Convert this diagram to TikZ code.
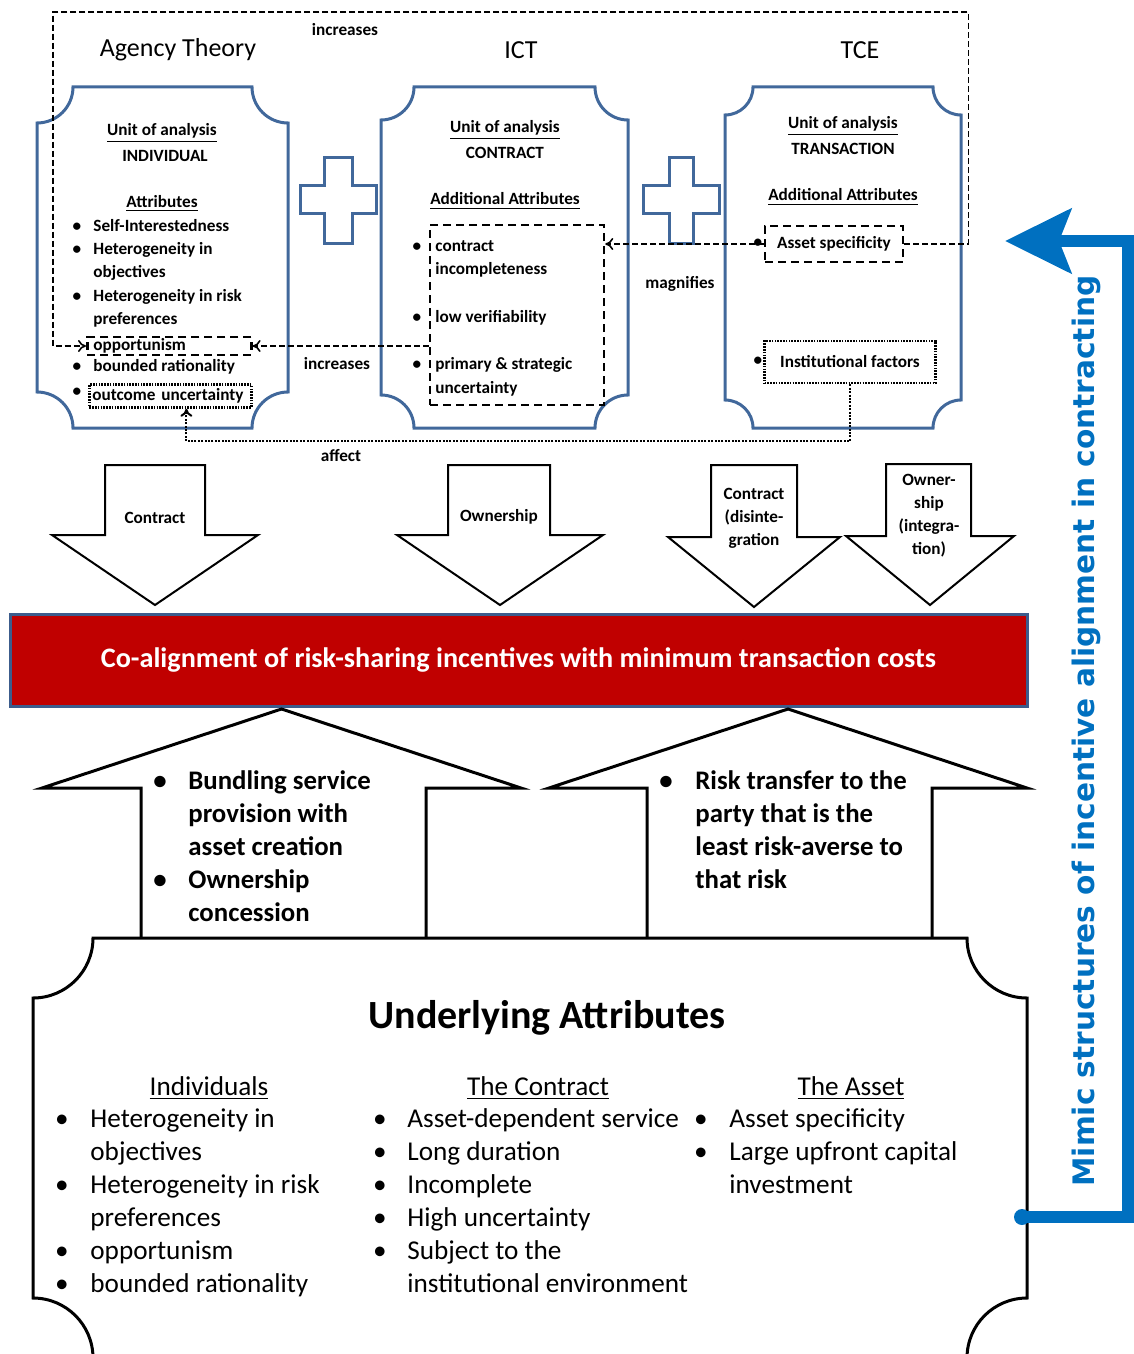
\documentclass[tikz,border=0pt]{standalone}
\usepackage{fontspec}
\setmainfont{Carlito}
\newfontfamily\mimicfont{DejaVu Sans}
\usetikzlibrary{arrows.meta}
\definecolor{panelblue}{RGB}{65,104,155}
\definecolor{barred}{RGB}{192,0,0}
\definecolor{barframe}{RGB}{60,92,140}
\definecolor{mimicblue}{RGB}{0,112,192}
\newcommand\plaque[6]{%
  \draw[#1] ({#2+#6},#3) -- ({#4-#6},#3) arc[start angle=180,end angle=270,radius={0.5pt*#6}]
    -- (#4,{#5-#6}) arc[start angle=90,end angle=180,radius={0.5pt*#6}]
    -- ({#2+#6},#5) arc[start angle=0,end angle=90,radius={0.5pt*#6}]
    -- (#2,{#3+#6}) arc[start angle=270,end angle=360,radius={0.5pt*#6}] -- cycle;}
\begin{document}
\begin{tikzpicture}[x=0.5pt, y=-0.5pt,
    paneltext/.style={font=\bfseries\fontsize{8.6}{11.5}\selectfont, inner sep=0pt},
    theory/.style={font=\fontsize{13}{15}\selectfont},
    listtext/.style={font=\fontsize{13.6}{16.5}\selectfont, inner sep=0pt, anchor=mid west},
    uptext/.style={font=\bfseries\fontsize{13.4}{16.5}\selectfont, inner sep=0pt, anchor=mid west},
    panel/.style={draw=panelblue, line width=1.5pt},
    block/.style={draw, line width=1pt, fill=white},
    uparrow/.style={draw, line width=1.5pt},
    dashbox/.style={draw, line width=1.3pt, dash pattern=on 4pt off 2.5pt},
    dotbox/.style={draw, line width=1.4pt, dash pattern=on 0.8pt off 0.6pt},
    link/.style={line width=0.8pt, dash pattern=on 3pt off 1.5pt, -{To[length=4pt,width=6pt]}},
    dotlink/.style={line width=1pt, dash pattern=on 1pt off 0.7pt, -{To[length=4pt,width=6pt]}}]
  \useasboundingbox (0,0) rectangle (1134,1354);

  \node[theory] (agency) at (178,50) {Agency Theory};
  \node[theory] (ict) at (521,50) {ICT};
  \node[theory] (tce) at (860,50) {TCE};

  \plaque{panel}{37}{87}{288}{428}{36}
  \plaque{panel}{381}{87}{628}{428}{33}
  \plaque{panel}{725}{87}{961}{428}{28}

  \foreach \cx/\w in {338/14, 681/12}
    \draw[panel] ({\cx-\w},157) -- ({\cx+\w},157) -- ({\cx+\w},185) -- ({\cx+38},185) -- ({\cx+38},213)
      -- ({\cx+\w},213) -- ({\cx+\w},243) -- ({\cx-\w},243) -- ({\cx-\w},213) -- ({\cx-38},213)
      -- ({\cx-38},185) -- ({\cx-\w},185) -- cycle;

  \node[paneltext] (unitA) at (162,133) {\underline{Unit of analysis}};
  \node[paneltext] (individual) at (165,156) {INDIVIDUAL};
  \node[paneltext] (attrA) at (162,204) {\underline{Attributes}};
  \foreach \y/\t [count=\i] in {227/Self-Interestedness, 250/Heterogeneity in, 273/objectives,
      297/Heterogeneity in risk, 320/preferences, 367/bounded rationality}
    \node[paneltext, anchor=mid west] (ta\i) at (93,\y) {\t};
  \foreach \y [count=\i] in {227,250,297,367,392}
    \node[paneltext, anchor=mid] (ba\i) at (77,\y) {\textbullet};
  \node[dashbox, paneltext, anchor=west, text width=76pt, inner xsep=3pt, inner ysep=0.8pt] (opp) at (86,346) {opportunism};
  \node[dotbox, paneltext, anchor=west, text width=78pt, align=left, inner xsep=1.5pt, inner ysep=2pt] (unc) at (88,396) {outcome uncertainty};

  \node[paneltext] (unitB) at (505,130) {\underline{Unit of analysis}};
  \node[paneltext] (contract) at (505,153) {CONTRACT};
  \node[paneltext] (attrB) at (505,201) {\underline{Additional Attributes}};
  \node[dashbox, minimum width=87pt, minimum height=90pt] (ictbox) at (517,315) {};
  \foreach \y/\t [count=\i] in {247/contract, 270/incompleteness, 318/low verifiability,
      365/primary \& strategic, 389/uncertainty}
    \node[paneltext, anchor=mid west] (tb\i) at (435,\y) {\t};
  \foreach \y [count=\i] in {247,318,365}
    \node[paneltext, anchor=mid] (bb\i) at (417,\y) {\textbullet};

  \node[paneltext] (unitC) at (843,126) {\underline{Unit of analysis}};
  \node[paneltext] (transaction) at (843,149) {TRANSACTION};
  \node[paneltext] (attrC) at (843,197) {\underline{Additional Attributes}};
  \node[dashbox, paneltext, minimum width=69pt, minimum height=18pt] (asset) at (834,244) {Asset specificity};
  \node[dotbox, paneltext, minimum width=85.5pt, minimum height=21pt] (inst) at (850,362) {Institutional factors};
  \foreach \y [count=\i] in {243,361}
    \node[paneltext, anchor=mid] (bc\i) at (758,\y) {\textbullet};

  \draw[link] (asset.east) -- ++(64,0) |- (53,12) |- (opp.west);
  \draw[link] (opp.east -| ictbox.west) -- (opp.east);
  \draw[link] (asset.west) -- (asset.west -| ictbox.east);
  \draw[dotlink] (inst.south) -- ++(0,57) -| ([xshift=8pt]unc.south);
  \node[paneltext] (inc1) at (345,30) {increases};
  \node[paneltext] (inc2) at (337,364) {increases};
  \node[paneltext] (magn) at (680,284) {magnifies};
  \node[paneltext] (affect) at (341,456) {affect};

  \foreach \sa/\sb/\ha/\hb/\top/\base/\tip in {105/205/52/258/465/535/605, 448/550/397/603/465/535/605,
      711/797/668/840/465/537/607, 886/971/846/1014/464/536/605}
    \draw[block] (\sa,\top) -- (\sb,\top) -- (\sb,\base) -- (\hb,\base) -- ({(\ha+\hb)/2},\tip)
      -- (\ha,\base) -- (\sa,\base) -- cycle;
  \node[paneltext] (govA) at (155,518) {Contract};
  \node[paneltext] (govB) at (499,517) {Ownership};
  \node[paneltext, align=center] (govC) at (754,518) {Contract\\(disinte-\\gration};
  \node[paneltext, align=center] (govD) at (929,516) {Owner-\\ship\\(integra-\\tion)};

  \node[draw=barframe, line width=1.5pt, fill=barred, minimum width=508.5pt, minimum height=46pt,
    text=white, font=\bfseries\fontsize{14.1}{16}\selectfont] (coalign) at (518.5,660)
    {Co-alignment of risk-sharing incentives with minimum transaction costs};

  \foreach \sa/\sb/\ha/\hb in {141/426/42/521, 647/932/549/1027}
    \draw[uparrow] (\sa,938) -- (\sa,788) -- (\ha,788) -- ({(\ha+\hb)/2},709) -- (\hb,788) -- (\sb,788) -- (\sb,938);
  \foreach \t [count=\i] in {Bundling service, provision with, asset creation, Ownership, concession}
    \node[uptext] (ul\i) at (188,{752+33*\i}) {\t};
  \foreach \i in {1,4}
    \node[uptext, anchor=mid] (ulb\i) at (160,{752+33*\i}) {\textbullet};
  \foreach \t [count=\i] in {Risk transfer to the, party that is the, least risk-averse to, that risk}
    \node[uptext] (ur\i) at (695,{752+33*\i}) {\t};
  \node[uptext, anchor=mid] (urb1) at (666,785) {\textbullet};

  \plaque{draw, line width=1.5pt}{33}{938}{1027}{1358}{60}
  \node[font=\bfseries\fontsize{20}{23}\selectfont] (underlying) at (547,1018) {Underlying Attributes};
  \node[listtext, anchor=mid] (hInd) at (209,1091) {\underline{Individuals}};
  \node[listtext, anchor=mid] (hCon) at (538,1091) {\underline{The Contract}};
  \node[listtext, anchor=mid] (hAss) at (851,1091) {\underline{The Asset}};
  \foreach \t [count=\i] in {Heterogeneity in, objectives, Heterogeneity in risk, preferences, opportunism, bounded rationality}
    \node[listtext] (li\i) at (90,{1090+33*\i}) {\t};
  \foreach \i in {1,3,5,6}
    \node[listtext, anchor=mid] (lib\i) at (62,{1090+33*\i}) {\textbullet};
  \foreach \t [count=\i] in {Asset-dependent service, Long duration, Incomplete, High uncertainty, Subject to the, institutional environment}
    \node[listtext] (lc\i) at (407,{1090+33*\i}) {\t};
  \foreach \i in {1,...,5}
    \node[listtext, anchor=mid] (lcb\i) at (380,{1090+33*\i}) {\textbullet};
  \foreach \t [count=\i] in {Asset specificity, Large upfront capital, investment}
    \node[listtext] (la\i) at (729,{1090+33*\i}) {\t};
  \foreach \i in {1,2}
    \node[listtext, anchor=mid] (lab\i) at (701,{1090+33*\i}) {\textbullet};

  \node[circle, fill=mimicblue, inner sep=0pt, minimum size=8pt] (mimicstart) at (1022,1217) {};
  \coordinate (mimicend) at (1005,241);
  \draw[mimicblue, line width=6pt, -{Stealth[length=33pt, width=32pt, inset=6pt]}]
    (mimicstart.center) -- (1128,1217) -- (1128,241) -- (mimicend);
  \node[rotate=90, text=mimicblue, font=\mimicfont\bfseries\fontsize{14.8}{17}\selectfont] (mimic) at (1086,731)
    {Mimic structures of incentive alignment in contracting};
\end{tikzpicture}
\end{document}
